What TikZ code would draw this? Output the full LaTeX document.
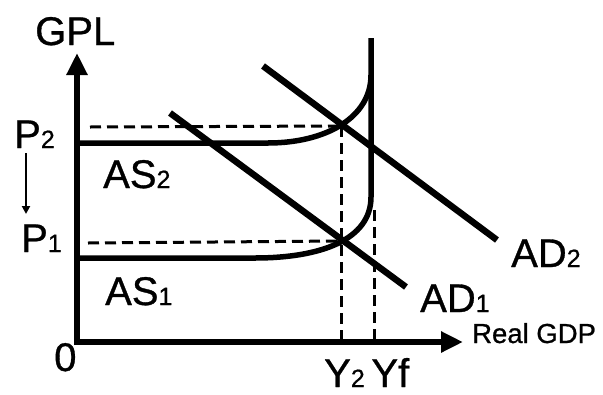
\documentclass[tikz,border=0pt]{standalone}
\usepackage{fontspec}
\setmainfont[FakeBold=0.8]{Liberation Sans}
\usetikzlibrary{arrows.meta}
\newcommand\lbsub[1]{{\fontsize{25}{25}\selectfont #1}}
\begin{document}
\begin{tikzpicture}[x=1pt,y=-1pt,
 axis/.style={line width=6pt, -{Triangle[length=22pt,width=20pt]}},
 curve/.style={line width=5.5pt},
 adline/.style={line width=6.5pt},
 guide/.style={line width=3pt, dash pattern=on 11pt off 6pt},
 big/.style={font=\fontsize{40}{40}\selectfont, inner sep=0pt, anchor=base west},
 small/.style={font=\fontsize{27.5}{27.5}\selectfont, inner sep=0pt, anchor=base west}]
\useasboundingbox (0,0) rectangle (603,394);
% axes
\coordinate (Ov) at (77,345);
\coordinate (Oh) at (74,342);
\coordinate (Ytop) at (77,53);
\coordinate (Xend) at (463,342);
\draw[axis] (Ov) -- (Ytop);
\draw[axis] (Oh) -- (Xend);
% key points
\coordinate (E1) at (341,241);
\coordinate (E2) at (341,126);
\coordinate (E1x) at (341,342);
\coordinate (Yfx) at (374,342);
\coordinate (Yftop) at (374,210);
\coordinate (P1s) at (88,243);
\coordinate (P2s) at (90,127);
% dashed guides
\draw[guide] (P2s) -- (E2);
\draw[guide] (P1s) -- (E1);
\draw[guide] (E2) -- (E1x);
\draw[guide] (Yftop) -- (Yfx);
% AS curves
\coordinate (A1s) at (77,258);
\coordinate (A1h) at (255,258);
\coordinate (A1v) at (371,197);
\coordinate (Vtop) at (371,38);
\coordinate (A2s) at (77,143);
\coordinate (A2h) at (268,143);
\coordinate (A2v) at (371,75);
\draw[curve] (A1s) -- (A1h) .. controls (320,258) and (371,240) .. (A1v) -- (Vtop);
\draw[curve] (A2s) -- (A2h) .. controls (325,143) and (371,118) .. (A2v);
% AD lines
\coordinate (D1a) at (170,113);
\coordinate (D1b) at (406,287);
\coordinate (D2a) at (263,66);
\coordinate (D2b) at (497,240);
\draw[adline] (D1a) -- (D1b);
\draw[adline] (D2a) -- (D2b);
% labels
\node[big] (gpl) at (35,45) {GPL};
\node[big] (p2) at (14,148) {P\lbsub{2}};
\node[big] (p1) at (21,252) {P\lbsub{1}};
\node[big] (as2) at (103,188) {AS\lbsub{2}};
\node[big] (as1) at (105,305) {AS\lbsub{1}};
\node[big] (zero) at (54,371) {0};
\node[big] (ad1) at (420,312) {AD\lbsub{1}};
\node[big] (ad2) at (511,267) {AD\lbsub{2}};
\node[small] (rgdp) at (472,343) {Real GDP};
\node[big] (yy) at (324,387) {Y\lbsub{2}\,Yf};
% price-change arrow
\coordinate (pa) at (26,153);
\coordinate (pb) at (26,214);
\draw[line width=2pt,-{Triangle[length=8pt,width=8pt]}] (pa) -- (pb);
\end{tikzpicture}
\end{document}
